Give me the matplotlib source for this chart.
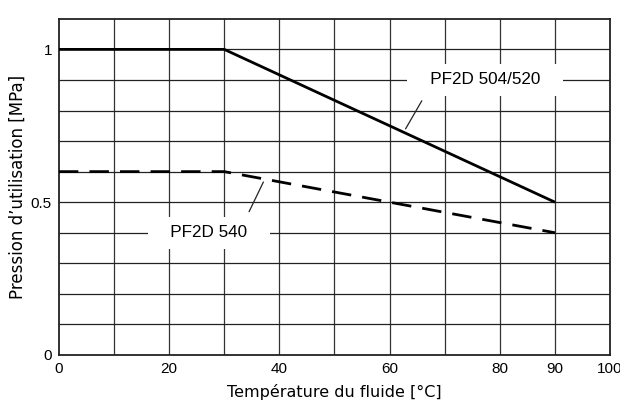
import numpy as np
import matplotlib.pyplot as plt

# temperature [°C] and max pressure [MPa]
temp_504 = [0, 30, 90]
p_504 = [1.0, 1.0, 0.5]
temp_540 = [0, 30, 90]
p_540 = [0.6, 0.6, 0.4]

xticks = [0, 20, 40, 60, 80, 90, 100]
yticks = [0, 0.5, 1]
ytick_labels = ["0", "0.5", "1"]

fig = plt.figure(figsize=(6.2, 4.05), dpi=100)
ax = fig.add_axes([0.095, 0.1235, 0.889, 0.83])

ax.set_xlim(0, 100)
ax.set_ylim(0, 1.1)

ax.set_xticks(xticks)
ax.set_xticklabels([str(t) for t in xticks], fontfamily="Liberation Sans", fontsize=11)
ax.set_yticks(yticks)
ax.set_yticklabels(ytick_labels, fontfamily="Liberation Sans", fontsize=11)
ax.tick_params(which="both", length=0, pad=5)

# grid every 10 degC / 0.1 MPa
for gx in np.arange(10, 100, 10):
    ax.axvline(gx, color="#333333", lw=0.9, zorder=0)
for gy in np.arange(0.1, 1.05, 0.1):
    ax.axhline(gy, color="#222222", lw=0.9, zorder=0)

for s in ax.spines.values():
    s.set_linewidth(1.3)
    s.set_color("#222222")

ax.plot(temp_504, p_504, color="black", lw=2.0, solid_capstyle="butt", zorder=3)
l540, = ax.plot(temp_540, p_540, color="black", lw=2.0, zorder=3)
l540.set_dashes((7, 4))

ax.annotate("   PF2D 504/520   ", xy=(62.9, 0.74), xytext=(77.3, 0.9),
            ha="center", va="center", fontfamily="Liberation Sans", fontsize=12.3,
            bbox=dict(boxstyle="square,pad=0.5", fc="white", ec="none"),
            arrowprops=dict(arrowstyle="-", lw=0.9, color="#222222",
                            relpos=(0.1, 0), shrinkA=-4, shrinkB=0),
            zorder=2)
ax.annotate("   PF2D 540   ", xy=(37.1, 0.566), xytext=(27.2, 0.40),
            ha="center", va="center", fontfamily="Liberation Sans", fontsize=12.3,
            bbox=dict(boxstyle="square,pad=0.5", fc="white", ec="none"),
            arrowprops=dict(arrowstyle="-", lw=0.9, color="#222222",
                            relpos=(0.82, 1), shrinkA=-4, shrinkB=0),
            zorder=2)

ax.set_xlabel("Température du fluide [°C]", fontfamily="DejaVu Sans", fontsize=11.5, labelpad=6)
ax.set_ylabel("Pression d\u2019utilisation [MPa]", fontfamily="DejaVu Sans", fontsize=12, labelpad=3)

fig.savefig("out.png", dpi=100)
